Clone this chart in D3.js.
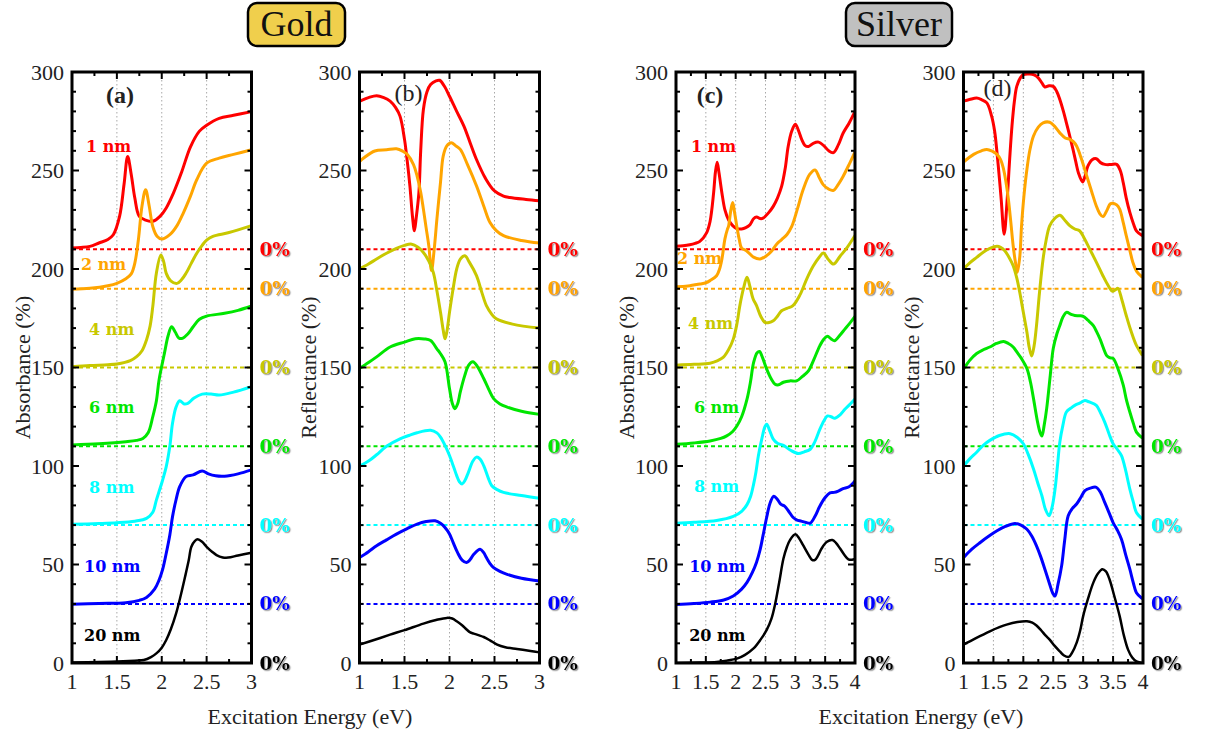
<!DOCTYPE html>
<html><head><meta charset="utf-8">
<script src="https://cdn.jsdelivr.net/npm/d3@7"></script>
<style>body{margin:0;background:#fff}svg{display:block}</style>
</head><body>
<svg id="fig" width="1205" height="735"></svg>
<script>
// ---------- data: [energy (eV), value (%) incl. vertical offset] ----------
// (a) Gold absorbance
const auAbs1  = [[1.0,210.6],[1.1,210.9],[1.2,211.5],[1.3,213.2],[1.4,215],[1.46,217.4],[1.53,226.7],[1.58,243],[1.62,257.1],[1.66,248],[1.7,236],[1.75,226.7],[1.82,224.8],[1.9,224.2],[1.98,226.7],[2.05,231],[2.13,238.5],[2.22,249],[2.32,262],[2.42,270],[2.5,273],[2.64,276.5],[2.8,278],[3.0,279.9]];
const auAbs2  = [[1.0,189.7],[1.2,190.2],[1.4,191.5],[1.5,192.7],[1.6,195],[1.66,197.5],[1.7,203],[1.74,215],[1.78,232],[1.82,240.2],[1.86,232],[1.9,221.6],[1.95,216.5],[2.0,215.2],[2.09,217.4],[2.17,222],[2.24,228.4],[2.32,237],[2.39,245.3],[2.5,253.7],[2.64,256.3],[2.8,258.2],[3.0,260.5]];
const auAbs4  = [[1.0,150.4],[1.2,151],[1.4,151.4],[1.5,151.8],[1.65,153.5],[1.72,155.5],[1.78,158.5],[1.83,164],[1.87,171],[1.9,180.9],[1.94,197.9],[1.99,207.1],[2.02,204],[2.05,197.8],[2.1,194],[2.17,192.7],[2.22,194.5],[2.27,197.8],[2.33,203],[2.39,208],[2.45,212],[2.5,214.7],[2.57,216.6],[2.75,218.5],[3.0,222]];
const auAbs6  = [[1.0,110.7],[1.3,111.3],[1.6,112.3],[1.72,113],[1.79,114],[1.85,117],[1.9,125],[1.94,133],[1.97,143.7],[2.03,157.2],[2.07,166],[2.11,170.7],[2.15,168],[2.19,165],[2.23,164.8],[2.29,167],[2.35,170.7],[2.42,174.5],[2.5,176.1],[2.7,177.5],[2.85,179],[3.0,181.2]];
const auAbs8  = [[1.0,70.4],[1.3,70.8],[1.5,71.2],[1.7,72],[1.83,73.4],[1.9,76.5],[1.94,82.7],[2.01,92.9],[2.05,99.7],[2.09,110],[2.12,121.7],[2.16,130],[2.2,133.1],[2.25,131.5],[2.29,131.8],[2.36,134.5],[2.45,136.5],[2.55,136.5],[2.64,136],[2.8,137.5],[3.0,140.3]];
const auAbs10 = [[1.0,29.8],[1.3,30.2],[1.6,30.6],[1.75,31.8],[1.83,33.3],[1.92,37.5],[1.97,42.1],[2.01,47.5],[2.05,55.7],[2.09,65],[2.12,74.3],[2.16,83],[2.2,89.5],[2.27,94.6],[2.35,95.5],[2.45,97.5],[2.52,96],[2.6,95],[2.7,94.8],[2.85,96],[3.0,98]];
const auAbs20 = [[1.0,0.2],[1.3,0.5],[1.5,0.8],[1.7,1.2],[1.8,1.5],[1.88,3],[1.94,4.9],[2.0,7.8],[2.05,11.7],[2.1,17],[2.16,25.2],[2.21,34],[2.26,43.8],[2.3,52],[2.33,59],[2.37,62],[2.4,62.8],[2.45,61.5],[2.5,59],[2.56,56.5],[2.61,54.8],[2.68,53.6],[2.74,53.5],[2.85,54.6],[3.0,56]];

// (b) Gold reflectance
const auRef1  = [[1.0,285],[1.03,285.7],[1.1,287],[1.19,288],[1.27,287],[1.34,285.2],[1.4,282],[1.45,277.6],[1.5,265.8],[1.53,255],[1.56,242.2],[1.59,226],[1.61,219.4],[1.63,226],[1.66,238.8],[1.68,260],[1.71,281],[1.75,290],[1.79,293.6],[1.85,295.5],[1.89,295.8],[1.94,293],[2.0,287.7],[2.08,280],[2.16,272.5],[2.23,264],[2.3,255.6],[2.4,246],[2.5,239.6],[2.6,237],[2.67,236.3],[2.85,235.3],[3.0,234.6]];
const auRef2  = [[1.0,254.5],[1.05,256.5],[1.17,259.9],[1.3,260.5],[1.41,261],[1.48,259.8],[1.53,258.2],[1.6,253],[1.64,247.2],[1.68,239],[1.71,230.4],[1.74,221],[1.77,211.8],[1.8,199.2],[1.83,210],[1.86,225.3],[1.9,244],[1.93,257.3],[1.97,262.5],[2.02,264.1],[2.07,262.5],[2.12,260.7],[2.2,253],[2.3,242.2],[2.38,232],[2.45,223.6],[2.52,219.5],[2.6,216.9],[2.8,214.5],[3.0,213.2]];
const auRef4  = [[1.0,200],[1.1,202.5],[1.19,205.1],[1.3,208],[1.41,210.5],[1.5,212],[1.58,212.6],[1.65,211],[1.71,208.4],[1.77,204],[1.82,198.3],[1.86,189],[1.9,178],[1.93,169],[1.95,164.6],[1.97,168],[2.0,178],[2.04,190],[2.08,200],[2.12,205],[2.17,206.7],[2.22,203.5],[2.3,196.6],[2.36,188],[2.41,181.4],[2.47,177],[2.52,174.7],[2.7,172],[3.0,170]];
const auRef6  = [[1.0,149.5],[1.1,152.5],[1.19,155.4],[1.34,160.4],[1.5,162.9],[1.62,164.6],[1.72,164.5],[1.79,163.7],[1.86,159.5],[1.9,157],[1.95,152.9],[2.0,139.3],[2.03,132],[2.06,129.1],[2.09,131.5],[2.12,137.6],[2.17,146],[2.21,151],[2.26,152.9],[2.31,150.5],[2.38,144.4],[2.44,138.5],[2.49,134.2],[2.56,131.5],[2.64,129.9],[2.8,127.8],[3.0,126.2]];
const auRef8  = [[1.0,99.9],[1.1,102.5],[1.19,105.7],[1.3,110],[1.45,113.8],[1.55,115.5],[1.64,116.9],[1.79,118.1],[1.86,116.8],[1.9,114.7],[1.95,110.5],[2.0,105.3],[2.05,99],[2.08,95.1],[2.11,92],[2.14,90.9],[2.17,92.5],[2.21,96.8],[2.26,102.5],[2.3,104.5],[2.34,103.5],[2.38,100.2],[2.43,94],[2.47,90],[2.53,88],[2.6,86.6],[2.8,85],[3.0,83.6]];
const auRef10 = [[1.0,53.5],[1.1,56.5],[1.19,59.5],[1.3,62.5],[1.41,65.4],[1.53,68.2],[1.64,70.5],[1.74,71.8],[1.84,72.2],[1.9,71],[1.95,68.8],[2.0,65.5],[2.04,61.2],[2.09,56],[2.14,52.2],[2.19,51],[2.23,52.5],[2.27,55.2],[2.34,57.8],[2.38,56],[2.41,53.5],[2.45,50.5],[2.49,48.4],[2.56,46.5],[2.64,45],[2.8,43],[3.0,41.6]];
const auRef20 = [[1.0,9.3],[1.17,11.8],[1.34,14.4],[1.5,16.7],[1.71,20],[1.85,21.8],[1.97,22.9],[2.03,22.6],[2.08,21.2],[2.14,19.2],[2.19,17],[2.23,15.5],[2.27,14.9],[2.33,14],[2.38,13.2],[2.45,11.5],[2.53,9.3],[2.62,8],[2.75,7.1],[2.9,6.1],[3.0,5.4]];

// (c) Silver absorbance
const agAbs1  = [[1.0,211.5],[1.12,211.8],[1.23,212.3],[1.32,213],[1.4,214],[1.51,218.2],[1.57,224],[1.63,238.5],[1.66,249],[1.69,254.2],[1.72,249],[1.77,238.5],[1.82,230],[1.88,225],[1.95,222],[2.02,220.5],[2.1,220.3],[2.17,221],[2.24,222.5],[2.3,225.5],[2.35,226.4],[2.41,225.6],[2.46,225.8],[2.55,228.5],[2.63,231.8],[2.7,236],[2.77,241.9],[2.83,251],[2.88,262.2],[2.94,270],[3.0,273.5],[3.05,270.5],[3.11,265.5],[3.16,262.8],[3.22,262.2],[3.3,263.8],[3.39,264.4],[3.48,262.5],[3.56,260],[3.64,259.1],[3.72,263],[3.8,268.9],[3.9,274],[4.0,280]];
const agAbs2  = [[1.0,191],[1.2,191.4],[1.4,192.4],[1.5,193],[1.57,194.1],[1.68,196.6],[1.73,200],[1.77,205.1],[1.82,215.3],[1.86,220],[1.88,221.6],[1.92,230],[1.95,233.8],[1.98,229],[2.02,221.6],[2.06,215],[2.1,210.6],[2.18,209.3],[2.3,206],[2.41,205.1],[2.52,206.8],[2.6,209],[2.69,212.7],[2.77,214.9],[2.86,217.5],[2.94,221.6],[3.03,230],[3.13,240.2],[3.24,248],[3.33,250.3],[3.4,246.5],[3.47,242.7],[3.56,240.5],[3.64,239.9],[3.72,243],[3.8,247],[3.9,253],[4.0,259.5]];
const agAbs4  = [[1.0,151.2],[1.3,151.6],[1.57,152.2],[1.7,153.5],[1.79,155.1],[1.88,159],[1.96,164.4],[2.02,172],[2.07,181.4],[2.13,190],[2.19,195.8],[2.24,191],[2.29,185],[2.35,181.4],[2.42,176],[2.49,172.9],[2.56,172.8],[2.63,173.7],[2.7,176],[2.77,178.8],[2.86,180],[2.96,181.4],[3.08,187],[3.19,194.9],[3.3,201.5],[3.4,206],[3.47,208.1],[3.55,205],[3.64,202.5],[3.75,206.5],[3.87,211],[4.0,217]];
const agAbs6  = [[1.0,111],[1.3,111.7],[1.57,112.7],[1.75,114],[1.85,115.3],[1.95,117.5],[2.02,120.3],[2.1,125],[2.19,133.9],[2.25,143],[2.3,152.5],[2.36,157.5],[2.4,158.1],[2.45,155],[2.52,149.2],[2.6,144],[2.66,141.5],[2.72,141.2],[2.8,142.5],[2.91,143.2],[3.02,143.2],[3.12,145.5],[3.22,148.3],[3.31,154],[3.41,161],[3.48,164.5],[3.54,165.8],[3.6,164.5],[3.66,163.6],[3.75,166.5],[3.83,169.5],[3.9,172],[4.0,176]];
const agAbs8  = [[1.0,71],[1.3,71.4],[1.68,72.3],[1.96,74.4],[2.1,77],[2.19,80.4],[2.25,84.5],[2.3,90.7],[2.34,97],[2.38,105.1],[2.44,114],[2.49,120],[2.52,121.2],[2.57,118],[2.63,113.6],[2.7,111.5],[2.8,110.5],[2.92,108],[3.05,106.3],[3.15,107.2],[3.25,108.5],[3.33,112.5],[3.41,118.6],[3.48,123],[3.54,125.4],[3.6,125],[3.66,124.2],[3.75,126],[3.83,128.8],[3.92,131.5],[4.0,134]];
const agAbs10 = [[1.0,29.7],[1.3,30.2],[1.57,30.9],[1.8,32],[1.96,34],[2.1,37.5],[2.19,40.9],[2.28,46],[2.35,51.2],[2.41,57.5],[2.46,64.9],[2.52,74],[2.58,81.5],[2.64,84.7],[2.7,83],[2.76,80.5],[2.82,79.6],[2.9,76.5],[2.96,74],[3.02,72.7],[3.1,72],[3.18,71.3],[3.25,71],[3.33,74.5],[3.41,79.6],[3.5,84],[3.58,86.4],[3.65,86.6],[3.72,87.3],[3.8,88.5],[3.9,89.5],[4.0,92.4]];
const agAbs20 = [[1.0,0],[1.4,0.2],[1.68,0.5],[1.85,1.2],[2.02,2.2],[2.15,4],[2.3,7.4],[2.42,12],[2.52,16.8],[2.6,22.5],[2.66,29.7],[2.73,41],[2.8,52.9],[2.86,59],[2.91,62.4],[3.0,65.3],[3.06,63.5],[3.13,59.8],[3.22,55],[3.28,52.4],[3.33,52.4],[3.38,54.5],[3.44,58.1],[3.53,61.5],[3.62,62.4],[3.68,61],[3.75,58.1],[3.82,55],[3.89,52.6],[3.95,52.4],[4.0,52.9]];

// (d) Silver reflectance
const agRef1  = [[1.0,285.2],[1.1,286],[1.22,286.8],[1.3,286],[1.39,284.3],[1.47,277.6],[1.52,270],[1.56,259],[1.6,246],[1.63,235.4],[1.68,217.7],[1.73,235.4],[1.77,255],[1.81,272.5],[1.85,285],[1.89,292.7],[1.95,297],[2.0,298.7],[2.11,299],[2.18,298.5],[2.25,297],[2.31,294.5],[2.36,292.4],[2.43,293],[2.5,292.7],[2.56,290],[2.61,286],[2.67,280],[2.72,274.2],[2.78,267],[2.83,260.7],[2.88,254],[2.92,248.9],[2.99,244.2],[3.03,247],[3.08,252.3],[3.15,255.5],[3.22,256],[3.29,254],[3.36,253.1],[3.46,253],[3.56,253.1],[3.62,250],[3.67,243.8],[3.72,236],[3.78,228.7],[3.84,223],[3.89,219.4],[3.99,216.9]];
const agRef2  = [[1.0,254.3],[1.17,258.2],[1.3,260],[1.39,260.7],[1.48,259.8],[1.56,258.2],[1.62,255.5],[1.67,250.6],[1.71,244],[1.75,235.4],[1.79,224],[1.83,211.8],[1.87,203],[1.9,198.3],[1.94,206],[1.97,221.9],[2.01,237],[2.06,250.6],[2.11,260.5],[2.17,267.5],[2.25,272],[2.33,274.2],[2.44,274.5],[2.52,272.5],[2.61,269.1],[2.7,266.5],[2.78,265.8],[2.84,264.5],[2.89,262.4],[2.97,256],[3.06,247.2],[3.14,239.5],[3.22,232],[3.28,228],[3.33,226.6],[3.4,230],[3.45,233],[3.5,233.4],[3.56,232.5],[3.61,230.4],[3.67,223.5],[3.72,216.9],[3.78,209.5],[3.83,203.4],[3.9,198.5],[3.99,195.8]];
const agRef4  = [[1.0,200],[1.1,203],[1.22,205.9],[1.33,208.5],[1.44,210.5],[1.56,211.5],[1.62,211],[1.69,209.3],[1.76,206],[1.83,201.7],[1.89,195.5],[1.94,188.2],[2.0,178],[2.06,167.9],[2.1,160],[2.14,155.8],[2.18,161],[2.22,171.3],[2.27,188],[2.33,205.1],[2.38,214.5],[2.44,221.9],[2.52,225.5],[2.61,227.3],[2.7,224.5],[2.78,221.9],[2.86,220.3],[2.94,219.4],[3.02,215.5],[3.11,210.1],[3.22,203.5],[3.33,196.6],[3.42,191.5],[3.49,188.7],[3.54,189.5],[3.58,190.2],[3.65,184],[3.72,176.4],[3.8,168.5],[3.89,161.2],[3.99,156.2]];
const agRef6  = [[1.0,149.1],[1.1,153.5],[1.22,157.1],[1.33,159],[1.44,160.4],[1.55,162.2],[1.67,163.2],[1.75,162.2],[1.83,160.4],[1.9,157.5],[1.97,154.5],[2.06,149.5],[2.12,142.5],[2.17,134.2],[2.24,122],[2.28,117],[2.31,115.2],[2.35,121],[2.39,129.1],[2.45,146],[2.5,159.7],[2.56,167],[2.61,171.3],[2.66,175.5],[2.72,178],[2.8,177],[2.86,176.4],[2.94,176.3],[3.0,176],[3.08,174],[3.17,171.3],[3.22,168.5],[3.28,164.6],[3.33,160.5],[3.39,156.2],[3.44,155],[3.5,154.6],[3.58,149.5],[3.67,141],[3.72,134],[3.78,127.4],[3.84,121.5],[3.89,117.2],[3.99,114.2]];
const agRef8  = [[1.0,99.9],[1.1,103.5],[1.22,107],[1.33,110.5],[1.44,113],[1.6,115.5],[1.78,116.4],[1.9,114.5],[2.0,111.3],[2.08,106],[2.17,98.5],[2.24,91.5],[2.31,84.9],[2.37,78],[2.43,74.7],[2.48,79],[2.53,88.3],[2.57,100],[2.61,112.1],[2.66,120.5],[2.72,127.4],[2.8,129.5],[2.86,130.8],[2.95,132],[3.03,133.3],[3.1,132.5],[3.22,130.8],[3.29,127],[3.36,122.3],[3.43,116.5],[3.5,111.3],[3.57,108.5],[3.64,105.3],[3.7,99],[3.78,88.3],[3.84,81.5],[3.89,76.4],[3.99,73]];
const agRef10 = [[1.0,53.5],[1.14,57.8],[1.28,61.2],[1.42,64.3],[1.56,67.1],[1.7,69.3],[1.86,70.8],[1.96,70],[2.06,67.9],[2.14,64.5],[2.22,59.5],[2.29,54],[2.36,47.6],[2.44,40],[2.49,35.5],[2.53,34],[2.58,40],[2.64,49.3],[2.69,62],[2.75,74.7],[2.82,78.5],[2.89,80.7],[2.96,84],[3.03,87.5],[3.12,88.8],[3.22,89.2],[3.29,86.5],[3.36,81.5],[3.43,76.5],[3.5,71.3],[3.57,67.5],[3.64,62.8],[3.71,55],[3.78,47.6],[3.84,40.5],[3.89,35.7],[3.99,32.6]];
const agRef20 = [[1.0,9.3],[1.2,12.5],[1.44,16.1],[1.6,18.2],[1.72,19.5],[1.9,20.8],[2.06,21.2],[2.15,20.5],[2.22,19],[2.3,16.5],[2.37,14],[2.44,11.9],[2.52,8.8],[2.61,5.9],[2.68,3.8],[2.76,3.1],[2.82,5.5],[2.89,10.2],[2.95,16.5],[3.0,23.8],[3.08,32.5],[3.17,40.8],[3.25,45.5],[3.32,47.6],[3.38,46.5],[3.44,42.5],[3.52,34],[3.61,23.8],[3.68,14],[3.75,6.8],[3.82,2.8],[3.89,0.8],[3.99,0]];

// ---------- shared categories / ticks ----------
const sizeLabels  = ["1 nm","2 nm","4 nm","6 nm","8 nm","10 nm","20 nm"];
const baselines   = [210, 190, 150, 110, 70, 30, 0];
const seriesColor = ["#ff0000","#ffa500","#c8c800","#00e600","#00ffff","#0000ff","#000000"];
const yTickValues = [0, 50, 100, 150, 200, 250, 300];
const goldTicks   = [1, 1.5, 2, 2.5, 3];
const silverTicks = [1, 1.5, 2, 2.5, 3, 3.5, 4];

// ---------- layout ----------
const TOP = 72, BOTTOM = 663;
const serif = "Liberation Serif, serif";
const boldSerif = "DejaVu Serif, serif";

const goldLabelAt   = [[1.156,259.4],[1.10,199.5],[1.19,166.5],[1.19,126.9],[1.19,86.3],[1.134,46.2],[1.134,11.2]];
const silverLabelAt = [[1.25,259.4],[1.017,202.5],[1.20,169.5],[1.30,126.9],[1.30,86.8],[1.22,46.2],[1.22,11.2]];

const panels = [
  {tag:"(a)", tagBold:true,  tagDx:48, tagY:103, left:72,    right:251.5, xMax:3, ticks:goldTicks,
   series:[auAbs1,auAbs2,auAbs4,auAbs6,auAbs8,auAbs10,auAbs20], yTitle:"Absorbance (%)",  yTitleX:22,  labelAt:goldLabelAt},
  {tag:"(b)", tagBold:false, tagDx:49, tagY:101, left:359.5, right:539.5, xMax:3, ticks:goldTicks,
   series:[auRef1,auRef2,auRef4,auRef6,auRef8,auRef10,auRef20], yTitle:"Reflectance (%)", yTitleX:308, labelAt:null},
  {tag:"(c)", tagBold:true,  tagDx:34, tagY:103, left:676,   right:855,   xMax:4, ticks:silverTicks,
   series:[agAbs1,agAbs2,agAbs4,agAbs6,agAbs8,agAbs10,agAbs20], yTitle:"Absorbance (%)",  yTitleX:626, labelAt:silverLabelAt},
  {tag:"(d)", tagBold:false, tagDx:34, tagY:96,  left:963.5, right:1143,  xMax:4, ticks:silverTicks,
   series:[agRef1,agRef2,agRef4,agRef6,agRef8,agRef10,agRef20], yTitle:"Reflectance (%)", yTitleX:911, labelAt:null}
];

const svg = d3.select("#fig");
const defs = svg.append("defs");
defs.append("filter").attr("id","txtShadow").attr("x","-20%").attr("y","-20%").attr("width","150%").attr("height","150%")
  .append("feDropShadow").attr("dx",1.2).attr("dy",1.2).attr("stdDeviation",0.7)
  .attr("flood-color","#777").attr("flood-opacity",0.75);

const y = d3.scaleLinear().domain([0,300]).range([BOTTOM, TOP]);

panels.forEach((p, pi) => {
  const x = d3.scaleLinear().domain([1, p.xMax]).range([p.left, p.right]);
  const g = svg.append("g");
  const clipId = "clip" + pi;
  defs.append("clipPath").attr("id", clipId).append("rect")
    .attr("x", p.left).attr("y", TOP).attr("width", p.right - p.left).attr("height", BOTTOM - TOP);

  // vertical dotted grid at the inner major ticks
  g.selectAll(".grid").data(p.ticks.slice(1, -1)).join("line")
    .attr("x1", d => x(d)).attr("x2", d => x(d)).attr("y1", TOP).attr("y2", BOTTOM)
    .attr("stroke", "#a8a8a8").attr("stroke-width", 1).attr("stroke-dasharray", "1.5,2.5");

  // dashed zero-reference line for each offset series
  g.selectAll(".base").data(baselines.slice(0, 6)).join("line")
    .attr("x1", p.left).attr("x2", p.right).attr("y1", d => y(d)).attr("y2", d => y(d))
    .attr("stroke", (d, i) => seriesColor[i]).attr("stroke-width", 2).attr("stroke-dasharray", "4,3");

  // spectra
  const line = d3.line().x(d => x(d[0])).y(d => y(d[1])).curve(d3.curveCatmullRom.alpha(0.5));
  g.append("g").attr("clip-path", `url(#${clipId})`)
    .selectAll("path").data(p.series).join("path")
    .attr("d", line).attr("fill", "none")
    .attr("stroke", (d, i) => seriesColor[i])
    .attr("stroke-width", (d, i) => i === 6 ? 2.5 : 3)
    .attr("stroke-linejoin", "round");

  // size labels
  if (p.labelAt) {
    g.selectAll(".size").data(sizeLabels).join("text")
      .attr("x", (d, i) => x(p.labelAt[i][0])).attr("y", (d, i) => y(p.labelAt[i][1]))
      .attr("fill", (d, i) => seriesColor[i])
      .attr("font-family", boldSerif).attr("font-weight", "bold").attr("font-size", 16)
      .text(d => d);
  }

  // "0%" markers at the right edge
  g.selectAll(".zero").data(baselines).join("text")
    .attr("x", p.right + 8).attr("y", d => y(d) + 6.5)
    .attr("fill", (d, i) => seriesColor[i]).attr("filter", "url(#txtShadow)")
    .attr("font-family", boldSerif).attr("font-weight", "bold").attr("font-size", 18.5)
    .text("0%");

  // ticks: inward on all four sides
  const yMinor = d3.range(0, 301, 10);
  const xMinor = d3.range(1, p.xMax + 0.001, 0.25);
  const tk = g.append("g").attr("stroke", "#000").attr("stroke-width", 2);
  yMinor.forEach(v => {
    const len = v % 50 === 0 ? 7 : 4;
    tk.append("line").attr("x1", p.left).attr("x2", p.left + len).attr("y1", y(v)).attr("y2", y(v));
    tk.append("line").attr("x1", p.right).attr("x2", p.right - len).attr("y1", y(v)).attr("y2", y(v));
  });
  xMinor.forEach(v => {
    const len = Math.abs(v * 2 - Math.round(v * 2)) < 1e-6 ? 7 : 4;
    tk.append("line").attr("x1", x(v)).attr("x2", x(v)).attr("y1", BOTTOM).attr("y2", BOTTOM - len);
    tk.append("line").attr("x1", x(v)).attr("x2", x(v)).attr("y1", TOP).attr("y2", TOP + len);
  });

  // frame
  g.append("rect").attr("x", p.left).attr("y", TOP).attr("width", p.right - p.left).attr("height", BOTTOM - TOP)
    .attr("fill", "none").attr("stroke", "#000").attr("stroke-width", 3);

  // tick labels
  g.selectAll(".ytl").data(yTickValues).join("text")
    .attr("x", p.left - 8).attr("y", d => y(d)).attr("dy", "0.35em").attr("text-anchor", "end")
    .attr("font-family", serif).attr("font-size", 22).attr("fill", "#222").text(d => d);
  g.selectAll(".xtl").data(p.ticks).join("text")
    .attr("x", d => x(d)).attr("y", 689).attr("text-anchor", "middle")
    .attr("font-family", serif).attr("font-size", 22).attr("fill", "#222").text(d => d);

  // y title
  g.append("text").attr("transform", `translate(${p.yTitleX},${(TOP + BOTTOM) / 2}) rotate(-90)`)
    .attr("text-anchor", "middle").attr("dominant-baseline", "central")
    .attr("font-family", serif).attr("font-size", 22).attr("fill", "#222").text(p.yTitle);

  // panel tag
  g.append("text").attr("x", p.left + p.tagDx).attr("y", p.tagY).attr("text-anchor", "middle")
    .attr("font-family", serif).attr("font-weight", p.tagBold ? "bold" : "normal")
    .attr("font-size", 24).attr("fill", "#222").text(p.tag);
});

// shared x titles
[{cx:310},{cx:921}].forEach(t => {
  svg.append("text").attr("x", t.cx).attr("y", 724).attr("text-anchor", "middle")
    .attr("font-family", serif).attr("font-size", 22).attr("fill", "#222").text("Excitation Energy (eV)");
});

// metal headers
const headers = [
  {text:"Gold",   x:248, w:97,  fill:"#f0cf4c"},
  {text:"Silver", x:846, w:106, fill:"#c0c0c0"}
];
headers.forEach(h => {
  svg.append("rect").attr("x", h.x).attr("y", 3).attr("width", h.w).attr("height", 43).attr("rx", 9)
    .attr("fill", h.fill).attr("stroke", "#000").attr("stroke-width", 2.5);
  svg.append("text").attr("x", h.x + h.w / 2).attr("y", 36).attr("text-anchor", "middle")
    .attr("font-family", serif).attr("font-size", 36).attr("fill", "#111").text(h.text);
});
</script>
</body></html>
